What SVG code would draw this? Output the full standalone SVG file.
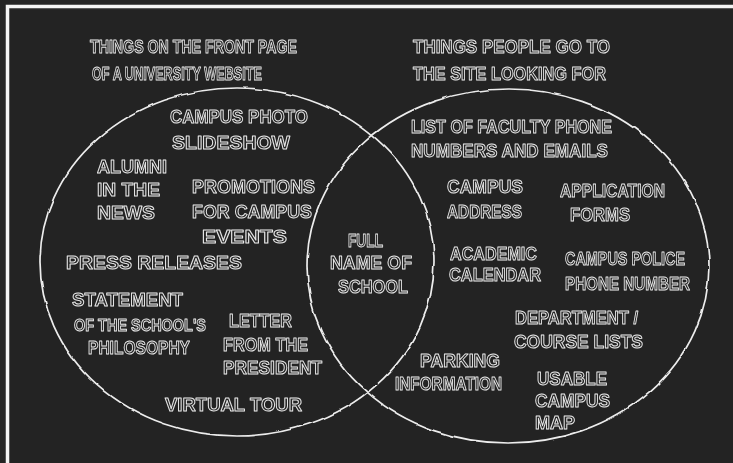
<svg xmlns="http://www.w3.org/2000/svg" width="733" height="463" viewBox="0 0 733 463">
  <defs>
    <style>
      .bg { fill: #232323; }
      .frame { fill: none; stroke: #f2f2f2; stroke-width: 3.5; }
      .set { fill: none; stroke: #ececec; stroke-width: 1.7; }
      .lbl { font-family: "Liberation Sans", "DejaVu Sans", sans-serif; font-size: 19px; font-weight: bold;
             fill: #262626; stroke: #e8e8e8; stroke-width: 1; stroke-linejoin: round; }
      .tight { font-size: 17px; }
    </style>
    <filter id="wobble" x="-5%" y="-5%" width="110%" height="110%">
      <feTurbulence type="fractalNoise" baseFrequency="0.05" numOctaves="2" seed="3" result="n"/>
      <feDisplacementMap in="SourceGraphic" in2="n" scale="3" xChannelSelector="R" yChannelSelector="G"/>
    </filter>
    <!-- renders the lettering through a plain greyscale pass -->
    <filter id="flat" x="0" y="0" width="100%" height="100%">
      <feColorMatrix type="identity"/>
    </filter>
  </defs>

  <rect class="bg" x="0" y="0" width="733" height="463"/>
  <!-- panel border: only the top and left edges fall inside the view -->
  <path class="frame" d="M7.5 470 V6.5 H740"/>

  <!-- the two overlapping sets -->
  <g id="sets" filter="url(#wobble)">
    <ellipse id="set-front-page" class="set" cx="237" cy="262" rx="197" ry="174"/>
    <ellipse id="set-looking-for" class="set" cx="508" cy="266" rx="201" ry="177"/>
  </g>

  <g id="labels" filter="url(#flat)">
  <g id="titles">
    <g id="title-left">
      <text class="lbl" x="90" y="53" textLength="207" lengthAdjust="spacingAndGlyphs">THINGS ON THE FRONT PAGE</text>
      <text class="lbl" x="92" y="80" textLength="170" lengthAdjust="spacingAndGlyphs">OF A UNIVERSITY WEBSITE</text>
    </g>
    <g id="title-right">
      <text class="lbl" x="413" y="53" textLength="197" lengthAdjust="spacingAndGlyphs">THINGS PEOPLE GO TO</text>
      <text class="lbl" x="413" y="80" textLength="193" lengthAdjust="spacingAndGlyphs">THE SITE LOOKING FOR</text>
    </g>
  </g>

  <g id="front-page-items">
    <g id="campus-photo-slideshow">
      <text class="lbl" x="170" y="123" textLength="138" lengthAdjust="spacingAndGlyphs">CAMPUS PHOTO</text>
      <text class="lbl" x="172" y="149" textLength="118" lengthAdjust="spacingAndGlyphs">SLIDESHOW</text>
    </g>
    <g id="alumni-in-the-news">
      <text class="lbl" x="97" y="173" textLength="70" lengthAdjust="spacingAndGlyphs">ALUMNI</text>
      <text class="lbl" x="97" y="196" textLength="63" lengthAdjust="spacingAndGlyphs">IN THE</text>
      <text class="lbl" x="97" y="219" textLength="58" lengthAdjust="spacingAndGlyphs">NEWS</text>
    </g>
    <g id="promotions">
      <text class="lbl" x="192" y="193" textLength="123" lengthAdjust="spacingAndGlyphs">PROMOTIONS</text>
      <text class="lbl" x="192" y="218" textLength="120" lengthAdjust="spacingAndGlyphs">FOR CAMPUS</text>
      <text class="lbl" x="202" y="243" textLength="85" lengthAdjust="spacingAndGlyphs">EVENTS</text>
    </g>
    <g id="press-releases">
      <text class="lbl" x="66" y="269" textLength="176" lengthAdjust="spacingAndGlyphs">PRESS RELEASES</text>
    </g>
    <g id="statement-of-philosophy">
      <text class="lbl" x="72" y="306" textLength="111" lengthAdjust="spacingAndGlyphs">STATEMENT</text>
      <text class="lbl tight" x="74" y="331" textLength="132" lengthAdjust="spacingAndGlyphs">OF THE SCHOOL'S</text>
      <text class="lbl" x="88" y="354" textLength="102" lengthAdjust="spacingAndGlyphs">PHILOSOPHY</text>
    </g>
    <g id="letter-from-president">
      <text class="lbl" x="229" y="327" textLength="63" lengthAdjust="spacingAndGlyphs">LETTER</text>
      <text class="lbl" x="223" y="351" textLength="85" lengthAdjust="spacingAndGlyphs">FROM THE</text>
      <text class="lbl" x="223" y="374" textLength="99" lengthAdjust="spacingAndGlyphs">PRESIDENT</text>
    </g>
    <g id="virtual-tour">
      <text class="lbl" x="165" y="411" textLength="137" lengthAdjust="spacingAndGlyphs">VIRTUAL TOUR</text>
    </g>
  </g>

  <g id="overlap-items">
    <g id="full-name-of-school">
      <text class="lbl" x="348" y="247" textLength="35" lengthAdjust="spacingAndGlyphs">FULL</text>
      <text class="lbl" x="330" y="269" textLength="82" lengthAdjust="spacingAndGlyphs">NAME OF</text>
      <text class="lbl" x="338" y="293" textLength="70" lengthAdjust="spacingAndGlyphs">SCHOOL</text>
    </g>
  </g>

  <g id="looking-for-items">
    <g id="faculty-phone-list">
      <text class="lbl" x="411" y="133" textLength="201" lengthAdjust="spacingAndGlyphs">LIST OF FACULTY PHONE</text>
      <text class="lbl" x="411" y="157" textLength="197" lengthAdjust="spacingAndGlyphs">NUMBERS AND EMAILS</text>
    </g>
    <g id="campus-address">
      <text class="lbl" x="447" y="193" textLength="76" lengthAdjust="spacingAndGlyphs">CAMPUS</text>
      <text class="lbl" x="447" y="218" textLength="75" lengthAdjust="spacingAndGlyphs">ADDRESS</text>
    </g>
    <g id="application-forms">
      <text class="lbl" x="560" y="197" textLength="105" lengthAdjust="spacingAndGlyphs">APPLICATION</text>
      <text class="lbl" x="570" y="221" textLength="60" lengthAdjust="spacingAndGlyphs">FORMS</text>
    </g>
    <g id="academic-calendar">
      <text class="lbl" x="450" y="260" textLength="87" lengthAdjust="spacingAndGlyphs">ACADEMIC</text>
      <text class="lbl" x="449" y="281" textLength="92" lengthAdjust="spacingAndGlyphs">CALENDAR</text>
    </g>
    <g id="campus-police">
      <text class="lbl" x="565" y="265" textLength="120" lengthAdjust="spacingAndGlyphs">CAMPUS POLICE</text>
      <text class="lbl" x="565" y="290" textLength="125" lengthAdjust="spacingAndGlyphs">PHONE NUMBER</text>
    </g>
    <g id="course-lists">
      <text class="lbl" x="515" y="324" textLength="123" lengthAdjust="spacingAndGlyphs">DEPARTMENT /</text>
      <text class="lbl" x="514" y="348" textLength="129" lengthAdjust="spacingAndGlyphs">COURSE LISTS</text>
    </g>
    <g id="parking-information">
      <text class="lbl" x="420" y="367" textLength="80" lengthAdjust="spacingAndGlyphs">PARKING</text>
      <text class="lbl" x="395" y="390" textLength="107" lengthAdjust="spacingAndGlyphs">INFORMATION</text>
    </g>
    <g id="usable-campus-map">
      <text class="lbl" x="537" y="385" textLength="70" lengthAdjust="spacingAndGlyphs">USABLE</text>
      <text class="lbl" x="535" y="407" textLength="75" lengthAdjust="spacingAndGlyphs">CAMPUS</text>
      <text class="lbl" x="535" y="429" textLength="40" lengthAdjust="spacingAndGlyphs">MAP</text>
    </g>
  </g>
  </g>
</svg>
